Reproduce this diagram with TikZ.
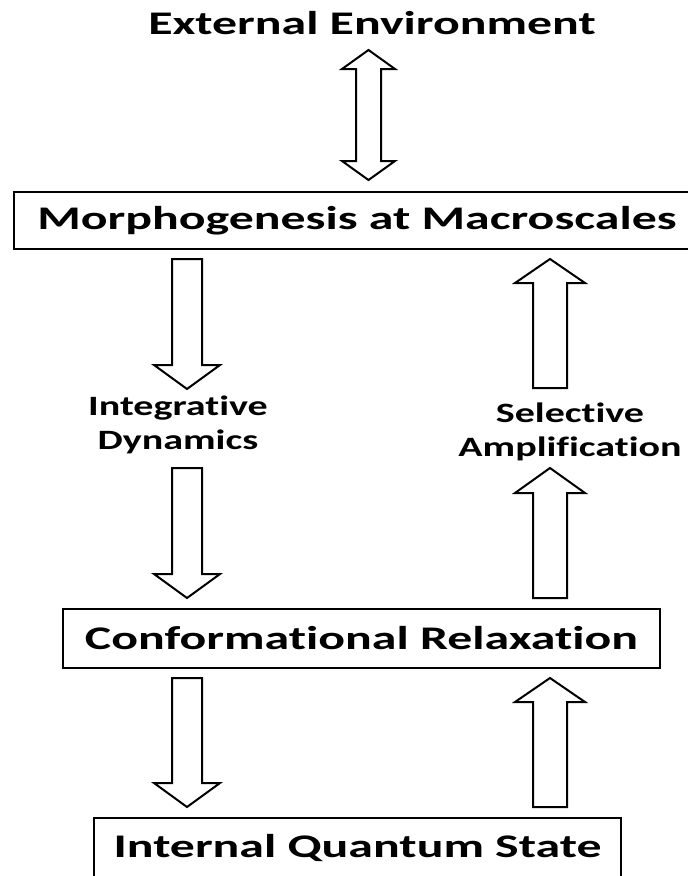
\documentclass[tikz,border=0pt]{standalone}
\usepackage{fontspec}
\usetikzlibrary{calc, positioning}
\newfontfamily\wfont[FakeStretch=1.51, Ligatures=NoCommon]{Carlito}
\newfontfamily\sfont[FakeStretch=1.43, Ligatures=NoCommon]{Carlito}

\tikzset{
	box/.style={draw, line width=2.2pt, inner sep=0pt, font={\wfont\bfseries\fontsize{33pt}{38pt}\selectfont}},
	side/.style={align=center, inner sep=0pt, font={\sfont\bfseries\fontsize{28pt}{34pt}\selectfont}},
	hollow/.style args={#1/#2/#3}{draw, fill=white, line width=2pt, to path={let \p1=(\tikztostart), \p2=(\tikztotarget), \p3=($(\tikztotarget)!#3!(\tikztostart)$) in (\x1-#1,\y1) -- (\x1-#1,\y3) -- (\x1-#2,\y3) -- (\x2,\y2) -- (\x1+#2,\y3) -- (\x1+#1,\y3) -- (\x1+#1,\y1) -- cycle}},
	hollowboth/.style args={#1/#2/#3}{draw, fill=white, line width=2pt, to path={let \p1=(\tikztostart), \p2=(\tikztotarget), \p3=($(\tikztotarget)!#3!(\tikztostart)$), \p4=($(\tikztostart)!#3!(\tikztotarget)$) in (\x1,\y1) -- (\x1+#2,\y4) -- (\x1+#1,\y4) -- (\x1+#1,\y3) -- (\x1+#2,\y3) -- (\x2,\y2) -- (\x1-#2,\y3) -- (\x1-#1,\y3) -- (\x1-#1,\y4) -- (\x1-#2,\y4) -- cycle}}
}

\begin{document}
\begin{tikzpicture}[x=1pt, y=-1pt]
	\useasboundingbox (0,0) rectangle (688,876);
	\clip (0,0) rectangle (688,876);

	%%%% levels
	\node[box, draw=none] (env) at (372,23) {External Environment};
	\node[box, minimum width=686pt, minimum height=57pt] (morph) at (357,220.5) {Morphogenesis at Macroscales};
	\node[box, minimum width=597pt, minimum height=59pt] (conf) at (361.5,638.5) {Conformational Relaxation};
	\node[box, minimum width=527pt, minimum height=60pt] (quant) at (357.5,848) {Internal Quantum State};

	%%%% labels
	\node[side] (integ) at (178,425) {Integrative\\Dynamics};
	\node[side] (select) at (570,432) {Selective\\Amplification};

	%%%% arrow ends
	\coordinate (e1) at (368.5,50);
	\coordinate (e2) at (368.5,180);
	\coordinate (down1s) at (187,259);
	\coordinate (down1e) at (187,389);
	\coordinate (down2s) at (187,468);
	\coordinate (down2e) at (187,598);
	\coordinate (down3s) at (187,678);
	\coordinate (down3e) at (187,807);
	\coordinate (up1s) at (550,388);
	\coordinate (up1e) at (550,259);
	\coordinate (up2s) at (550,598);
	\coordinate (up2e) at (550,468);
	\coordinate (up3s) at (550,807);
	\coordinate (up3e) at (550,678);

	%%%% arrows
	\draw[hollowboth=12.5pt/26.5pt/19pt] (e1) to (e2);
	\draw[hollow=15pt/33pt/24pt] (down1s) to (down1e);
	\draw[hollow=15pt/33pt/24pt] (down2s) to (down2e);
	\draw[hollow=15pt/33pt/24pt] (down3s) to (down3e);
	\draw[hollow=17pt/35pt/24pt] (up1s) to (up1e);
	\draw[hollow=17pt/35pt/25pt] (up2s) to (up2e);
	\draw[hollow=17pt/35pt/24pt] (up3s) to (up3e);
\end{tikzpicture}
\end{document}
